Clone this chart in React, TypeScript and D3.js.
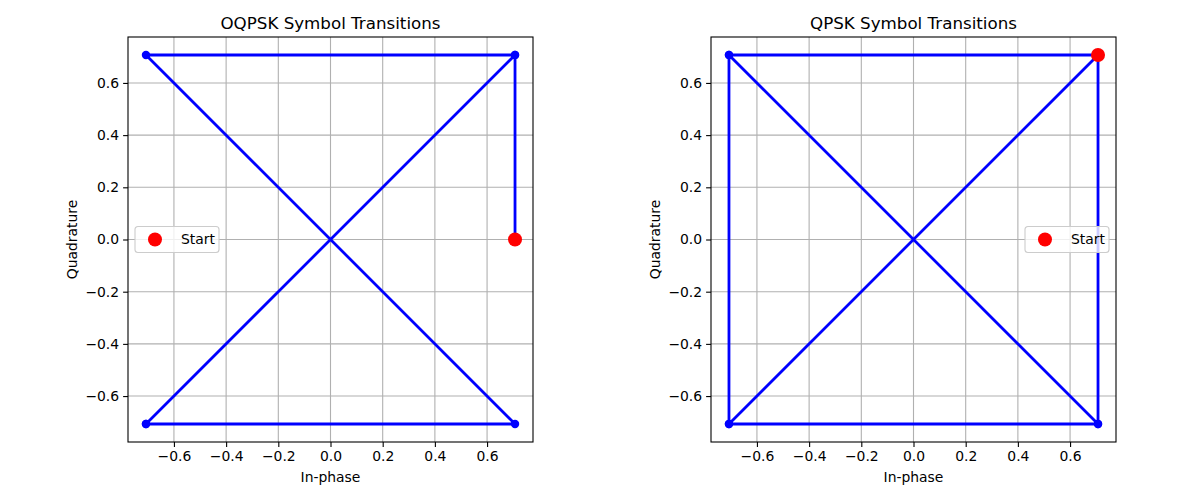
import React, { useEffect, useRef } from 'react';
import * as d3 from 'd3';

const A = Math.SQRT1_2;

// OQPSK trace: starts half way on the I/Q offset
const oqpskI = [A, A, -A, A, -A, A, -A];
const oqpskQ = [0, A, A, -A, -A, A, -A];

// QPSK trace: jumps straight between constellation points
const qpskI = [A, -A, A, A, A, -A, -A, -A, A];
const qpskQ = [A, A, -A, A, -A, -A, A, -A, A];

const tickValues = [-0.6, -0.4, -0.2, 0, 0.2, 0.4, 0.6];
const titles = ['OQPSK Symbol Transitions', 'QPSK Symbol Transitions'];
const legendLoc = ['left', 'right'];

const FONT = 'DejaVu Sans, sans-serif';

const App: React.FC = () => {
    const ref = useRef<SVGSVGElement>(null);

    useEffect(() => {
        if (!ref.current) return;
        const svg = d3.select(ref.current);
        svg.selectAll('*').remove();

        const panels = [
            { left: 128, I: oqpskI, Q: oqpskQ },
            { left: 711, I: qpskI, Q: qpskQ },
        ];
        const top = 37;
        const size = 405;
        const lim = 0.776;

        panels.forEach((p, k) => {
            const x = d3.scaleLinear().domain([-lim, lim]).range([p.left, p.left + size]);
            const y = d3.scaleLinear().domain([-lim, lim]).range([top + size, top]);
            const g = svg.append('g');

            // grid
            g.selectAll('line.gx').data(tickValues).join('line')
                .attr('x1', d => x(d)).attr('x2', d => x(d))
                .attr('y1', top).attr('y2', top + size)
                .attr('stroke', '#b0b0b0').attr('stroke-width', 1.1);
            g.selectAll('line.gy').data(tickValues).join('line')
                .attr('y1', d => y(d)).attr('y2', d => y(d))
                .attr('x1', p.left).attr('x2', p.left + size)
                .attr('stroke', '#b0b0b0').attr('stroke-width', 1.1);

            // trace
            const pts = p.I.map((v, i) => [v, p.Q[i]] as [number, number]);
            const line = d3.line<[number, number]>().x(d => x(d[0])).y(d => y(d[1]));
            g.append('path').datum(pts)
                .attr('d', line)
                .attr('fill', 'none').attr('stroke', 'blue')
                .attr('stroke-width', 2.8).attr('stroke-linejoin', 'round');
            g.selectAll('circle.m').data(pts).join('circle')
                .attr('cx', d => x(d[0])).attr('cy', d => y(d[1]))
                .attr('r', 4.2).attr('fill', 'blue');
            g.append('circle')
                .attr('cx', x(pts[0][0])).attr('cy', y(pts[0][1]))
                .attr('r', 7).attr('fill', 'red');

            // axes
            const xAxis = g.append('g')
                .attr('transform', `translate(0,${top + size})`)
                .call(d3.axisBottom(x).tickValues(tickValues).tickFormat(d3.format('.1f')).tickSize(4.9).tickPadding(4));
            const yAxis = g.append('g')
                .attr('transform', `translate(${p.left},0)`)
                .call(d3.axisLeft(y).tickValues(tickValues).tickFormat(d3.format('.1f')).tickSize(4.9).tickPadding(4));
            [xAxis, yAxis].forEach(a => {
                a.select('.domain').remove();
                a.selectAll('line').attr('stroke', 'black').attr('stroke-width', 1.1);
                a.selectAll('text').attr('font-family', FONT).attr('font-size', 13.9).attr('fill', 'black');
            });

            g.append('rect')
                .attr('x', p.left).attr('y', top).attr('width', size).attr('height', size)
                .attr('fill', 'none').attr('stroke', 'black').attr('stroke-width', 1.1);

            // labels
            g.append('text')
                .attr('x', p.left + size / 2).attr('y', 29)
                .attr('text-anchor', 'middle').attr('font-family', FONT).attr('font-size', 16.7)
                .text(titles[k]);
            g.append('text')
                .attr('x', p.left + size / 2).attr('y', 482)
                .attr('text-anchor', 'middle').attr('font-family', FONT).attr('font-size', 13.9)
                .text('In-phase');
            g.append('text')
                .attr('transform', `translate(${p.left - 51},${top + size / 2}) rotate(-90)`)
                .attr('text-anchor', 'middle').attr('font-family', FONT).attr('font-size', 13.9)
                .text('Quadrature');

            // legend
            const lw = 84, lh = 26;
            const lx = legendLoc[k] === 'left' ? p.left + 7 : p.left + size - 7 - lw;
            const ly = y(0) - lh / 2;
            const leg = g.append('g').attr('transform', `translate(${lx},${ly})`);
            leg.append('rect')
                .attr('width', lw).attr('height', lh).attr('rx', 3)
                .attr('fill', 'white').attr('fill-opacity', 0.8)
                .attr('stroke', '#cccccc').attr('stroke-width', 1.1);
            leg.append('circle').attr('cx', 20).attr('cy', lh / 2).attr('r', 7).attr('fill', 'red');
            leg.append('text')
                .attr('x', 46).attr('y', lh / 2).attr('dy', '0.35em')
                .attr('font-family', FONT).attr('font-size', 13.9)
                .text('Start');
        });
    }, []);

    return <svg ref={ref} width={1200} height={500} style={{ position: 'absolute', left: 0, top: 0, background: 'white' }}></svg>;
};

export default App;
